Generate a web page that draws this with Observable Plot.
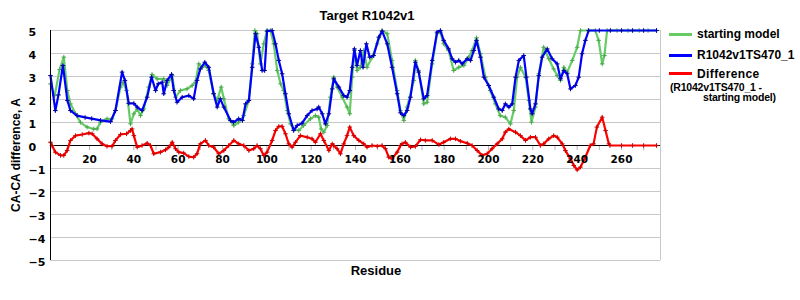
<!DOCTYPE html>
<html><head><meta charset="utf-8">
<script src="https://cdn.jsdelivr.net/npm/d3@7"></script>
<script src="https://cdn.jsdelivr.net/npm/@observablehq/plot@0.6"></script>
<style>
body{margin:0;background:#fff;}
#wrap{position:relative;width:800px;height:300px;overflow:hidden;font-family:"Liberation Sans",Arial,sans-serif;font-weight:bold;color:#000;background:#fff;}
#wrap svg{position:absolute;left:0;top:0;}
.t{position:absolute;white-space:nowrap;line-height:1;}
.sw{position:absolute;height:3px;width:23px;left:669px;}
</style></head><body><div id="wrap"></div>
<script>
const title = "Target R1042v1";
const yLabel = "CA-CA difference, A";
const xLabel = "Residue";
const seriesNames = ["starting model", "R1042v1TS470_1", "Difference"];
const diffNote = ["(R1042v1TS470_1 -", "starting model)"];
const residueTicks = [20, 40, 60, 80, 100, 120, 140, 160, 180, 200, 220, 240, 260];
const residueMinor = [10, 20, 30, 40, 50, 60, 70, 80, 90, 100, 110, 120, 130, 140, 150, 160, 170, 180, 190, 200, 210, 220, 230, 240, 250, 260, 270];
const yTicks = [-5, -4, -3, -2, -1, 0, 1, 2, 3, 4, 5];
const xDomain = [2.4, 277.6];

// [residue, CA-CA difference]
const startingModel = [[2.4,2.68],[4.3,2.17],[6.5,3.3],[8.4,3.84],[10,2.39],[11.4,1.81],[13.7,1.38],[15.9,1.01],[18.9,0.8],[21.9,0.72],[23.4,0.72],[24.9,1.01],[27.9,1.16],[30.2,1.16],[31.7,1.52],[34,2.54],[35.2,2.75],[36.7,2.39],[38.5,0.94],[40,1.38],[41.5,1.59],[43,1.3],[44.5,1.59],[46.7,2.54],[48.2,3.09],[50.5,2.9],[53.5,2.9],[55,2.61],[57.3,3.04],[58.8,2.1],[61,2.39],[64,2.46],[66.3,2.61],[67.8,2.75],[69.3,3.55],[70.8,3.4],[72.3,3.48],[73.8,3.26],[76,2.25],[77.6,1.96],[79.4,2.54],[80.6,2.03],[82.8,1.16],[85.1,0.87],[87.3,1.01],[89.6,1.3],[91.9,1.96],[93.4,3.55],[94.6,5],[95.6,4.86],[97.1,3.55],[98.6,4.42],[100.1,5],[101.6,5],[103.1,4.42],[104.7,3.26],[106.2,2.68],[107.6,2.39],[109.2,1.52],[110.7,0.94],[112.1,0.72],[114.4,0.65],[116.6,0.87],[119.7,1.16],[121.9,1.3],[123.4,1.23],[124.5,0.72],[125.7,0.58],[127.2,0.87],[128.7,2.1],[130.2,2.97],[131.7,2.54],[134,2.1],[136.2,1.67],[137.4,1.38],[138.5,2.97],[139.5,4.13],[140.7,3.26],[142.2,3.4],[143.7,4.13],[145.2,3.4],[147.5,3.84],[149.8,4.42],[152,5],[154.3,4.86],[156.5,3.7],[158.8,2.39],[160.3,1.52],[161.8,1.09],[163.3,1.67],[166.3,2.83],[167,3.7],[168.5,3.26],[170.8,1.81],[172.3,1.88],[174.6,3.55],[176.8,4.86],[178.3,4.93],[179.8,4.42],[182,4.13],[184.3,3.26],[186.6,3.4],[188.9,3.48],[191.1,3.84],[192.6,4.13],[194.6,4.68],[196.4,3.99],[198.6,2.97],[200.8,2.39],[203.1,1.81],[205.3,1.3],[207.6,1.23],[209.9,0.94],[211.4,1.52],[212.9,2.97],[214.4,3.4],[216.7,2.97],[218.2,1.96],[219.4,1.01],[221.2,1.67],[222.7,3.12],[224.9,4.27],[227.2,3.77],[229.4,3.33],[231,3.04],[232.5,2.83],[234,3.4],[235.5,3.19],[237.8,3.7],[240,4.27],[241.5,5],[245,5],[248.2,5],[249.7,4.57],[251.3,3.55],[252.3,3.91],[253.5,5],[258,5],[263,5],[268,5],[272,5],[275.8,5]];

const modelTS470 = [[2.4,3.04],[4.6,1.52],[6,2.2],[8,3.48],[10,1.96],[11.4,1.52],[14.4,1.3],[18,1.22],[21,1.17],[25,1.09],[29.5,1.04],[31.7,1.52],[34.7,3.19],[36,2.83],[37.7,1.83],[40,1.83],[41.5,1.67],[43.7,1.52],[46,2.1],[48,2.97],[49.8,2.39],[51,2.68],[52.8,2.75],[53.5,2.25],[55,2.83],[57,3.09],[58,2.39],[59.5,1.88],[61.8,2.1],[64.8,2.17],[67,2.03],[68.5,2.83],[70,3.33],[72,3.62],[73.8,3.4],[76,2.25],[77.6,1.67],[79,2.03],[80.6,1.67],[83.6,1.09],[85,1.01],[87.3,1.16],[89,1.09],[90.4,1.81],[91.9,1.96],[93.4,3.4],[94.9,4.86],[96.4,4.27],[97.9,3.26],[99,3.26],[100.1,4.97],[102.4,5],[103.9,4.42],[105.4,3.7],[106.9,3.12],[108.4,2.25],[109.9,1.38],[112.1,0.65],[113.7,0.87],[115.9,0.97],[118.2,1.3],[120.4,1.52],[122.7,1.59],[123.4,1.67],[125,1.38],[126.4,0.94],[128,1.38],[129.5,2.46],[130.2,2.9],[132.5,2.54],[134.7,2.17],[136.2,2.1],[137.4,2.39],[138.5,3.4],[139.5,4.2],[140.7,3.48],[142.2,4.13],[143.4,3.4],[144.9,4.42],[146.4,3.84],[148.2,3.91],[150.5,4.71],[152,4.97],[154.3,4.42],[156.5,3.4],[158.8,2.25],[160.3,1.42],[161.8,1.3],[163.3,1.52],[164.8,2.1],[167,3.62],[168.5,3.19],[170.8,2.03],[172.3,2.17],[174.6,3.7],[176.8,4.93],[178.3,5],[179.8,4.57],[182,4.2],[183.6,3.77],[185.1,3.62],[186.6,3.7],[188.1,3.55],[190.4,3.77],[191.9,3.7],[193.4,4.13],[194.6,4.57],[196.4,3.84],[197.9,2.97],[200.1,2.61],[202.4,2.1],[204.6,1.59],[206.2,1.52],[207.6,1.81],[209.2,1.67],[210.7,1.81],[212.2,2.97],[213.7,3.7],[215.9,3.91],[217.1,2.97],[218.9,1.59],[219.7,1.38],[221.2,1.81],[222.7,3.04],[224.2,3.84],[226.5,4.2],[228.7,3.77],[231,3.55],[232.5,2.9],[234,3.26],[235.5,3.12],[237,2.46],[239.2,2.61],[240.7,2.97],[242.2,3.99],[243.7,4.57],[245.2,5],[250,5],[255,5],[260,5],[265,5],[270,5],[275.8,5]];

const difference = [[2.4,0.14],[3.1,0],[4.6,-0.29],[6.9,-0.43],[8.4,-0.43],[9.9,-0.22],[11.4,0.22],[13.7,0.43],[16.7,0.48],[19.7,0.54],[21.2,0.51],[23.4,0.29],[25.7,0.07],[27.9,-0.03],[30.2,-0.03],[31.7,0.22],[34,0.48],[36.7,0.51],[38.5,0.65],[39.2,0.72],[40,0.43],[41.5,-0.07],[43.7,0],[46,0.1],[47.5,0],[49,-0.36],[52,-0.29],[54.3,-0.19],[55.8,-0.07],[57.3,0.14],[58.8,-0.14],[60.3,-0.29],[62.5,-0.33],[64.8,-0.48],[67,-0.51],[68.5,-0.36],[70,0.07],[72.3,0.22],[73.8,0],[76,-0.07],[78.3,-0.36],[80.6,-0.22],[82.8,0],[85.1,0.22],[87.3,0.07],[89.6,0],[91.9,-0.22],[94.1,-0.14],[95.6,0],[97.1,-0.14],[98.6,-0.43],[100.1,-0.29],[102.4,0.22],[103.9,0.65],[105.4,0.83],[106.9,0.83],[108.4,0.51],[109.9,0.07],[111.4,-0.07],[112.9,0.14],[115.1,0.43],[118.2,0.36],[120.4,0.29],[121.9,0.14],[124.2,0.51],[125.7,0.22],[128,-0.22],[129.5,0.07],[130.2,0],[131.7,-0.14],[133.2,-0.36],[134.7,0.07],[136.2,0.43],[137.4,0.8],[139.2,0.43],[141.5,0.22],[143.7,0.07],[145.2,-0.07],[147.5,0],[149.8,-0.03],[152,0],[153.5,-0.14],[155,-0.51],[156.5,-0.58],[158.8,-0.29],[160.3,0],[161,0.07],[162.5,0.14],[164.8,-0.07],[167,-0.04],[169.3,0.25],[171.5,0.22],[174.6,0.22],[177.6,0.04],[179.8,0.14],[182.8,0.29],[185.1,0.29],[187.3,0.19],[190.4,0.1],[192.6,0],[194.9,-0.22],[197.1,-0.43],[199.4,-0.36],[201.6,-0.14],[203.9,0.07],[206.2,0.29],[207.6,0.58],[209.2,0.72],[212.2,0.58],[214.4,0.43],[216.7,0.22],[218.9,0.36],[221.2,0.36],[223.4,0],[224.9,0.07],[227.2,0.29],[229.4,0.43],[231,0.36],[233.3,0.07],[234.7,-0.22],[237,-0.58],[238.5,-0.87],[240,-1.06],[241.5,-0.94],[243.7,-0.51],[245.9,0],[247.4,0.07],[248.9,0.8],[251.3,1.23],[252.8,0.65],[254.3,0.07],[254.8,0],[260,0],[265,0],[270,0],[275.8,0]];

const colors = ["#66cc66", "#0000ff", "#ff0000"];
const markColors = ["#4fa84f", "#0000aa", "#cc0000"];

const fmt = d => d < 0 ? "\u2212" + (-d) : String(d);
const series = [startingModel, modelTS470, difference];

const marks = [
  Plot.ruleY(yTicks.filter(d => d !== 0), {y: d => d, stroke: "#c8c8c8", strokeWidth: 1}),
  Plot.ruleX([xDomain[1]], {x: d => d, stroke: "#c8c8c8"}),
  Plot.ruleX(residueMinor, {x: d => d, y1: 0, y2: -0.22, stroke: "#b4b4b4"}),
  Plot.ruleY([0], {y: d => d, stroke: "#000"})
];
series.forEach((s, i) => {
  marks.push(Plot.line(s, {x: d => d[0], y: d => d[1], stroke: colors[i], strokeWidth: 2.2, curve: "linear"}));
  marks.push(Plot.dot(s, {x: d => d[0], y: d => d[1], symbol: "plus", r: 1.6, stroke: markColors[i], strokeWidth: 1}));
});
marks.push(Plot.ruleX([xDomain[0]], {x: d => d, stroke: "#000"}));
marks.push(Plot.text(yTicks, {y: d => d, text: fmt, frameAnchor: "left", dx: -22, dy: 2, textAnchor: "start",
  fontFamily: "DejaVu Sans", fontWeight: "bold", fontSize: 11, fill: "#000"}));
marks.push(Plot.text(residueTicks, {x: d => d, y: 0, text: fmt, dy: 14, ariaLabel: "xticklabels",
  fontFamily: "DejaVu Sans", fontWeight: "bold", fontSize: 10.5, fill: "#000"}));

const chart = Plot.plot({
  width: 800, height: 300,
  marginLeft: 50, marginRight: 140, marginTop: 30, marginBottom: 40,
  x: {domain: xDomain, axis: null},
  y: {domain: [-5, 5], axis: null},
  style: {background: "transparent", overflow: "visible"},
  marks
});
d3.select(chart).selectAll('g[aria-label="xticklabels"] text').style("letter-spacing", "1.5px");

const wrap = document.getElementById("wrap");
wrap.appendChild(chart);

function addText(txt, left, top, size, extra) {
  const d = document.createElement("div");
  d.className = "t";
  d.textContent = txt;
  d.style.left = left + "px";
  d.style.top = top + "px";
  d.style.fontSize = size + "px";
  if (extra) Object.assign(d.style, extra);
  wrap.appendChild(d);
  return d;
}
// title
addText(title, 267, 9, 13, {width: "200px", textAlign: "center"});
// x label
addText(xLabel, 276, 264, 13, {width: "200px", textAlign: "center"});
// y label (rotated)
addText(yLabel, -84, 149, 12, {width: "200px", textAlign: "center", transform: "rotate(-90deg)", transformOrigin: "50% 50%"});
// legend
const legendY = [34, 55, 73.5];
seriesNames.forEach((n, i) => {
  const sw = document.createElement("div");
  sw.className = "sw";
  sw.style.top = (legendY[i] - 1.5) + "px";
  sw.style.background = colors[i];
  wrap.appendChild(sw);
  addText(n, 697, legendY[i] - 6, 12, i === 2 ? {letterSpacing: "0.4px"} : {});
});
addText(diffNote[0], 670, 81.5, 10.5, {letterSpacing: "-0.2px"});
addText(diffNote[1], 703, 92, 10.5, {letterSpacing: "-0.2px"});
</script>
</body></html>
